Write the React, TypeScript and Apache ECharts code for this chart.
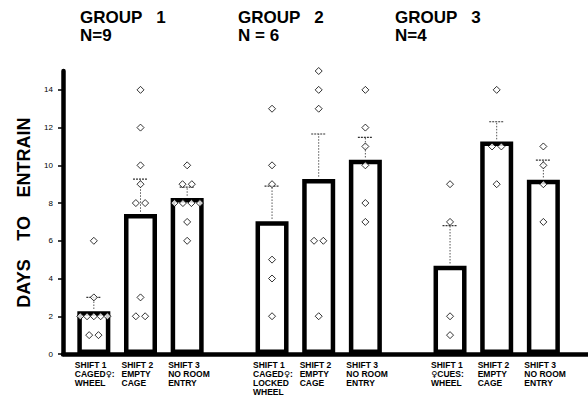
import React, { useEffect, useRef } from "react";
import * as echarts from "echarts";

const groupTitles = ["GROUP   1\nN=9", "GROUP   2\nN = 6", "GROUP   3\nN=4"];

const g1Categories = ["SHIFT 1\nCAGED♀:\nWHEEL", "SHIFT 2\nEMPTY\nCAGE", "SHIFT 3\nNO ROOM\nENTRY"];
const g2Categories = ["SHIFT 1\nCAGED♀:\nLOCKED\nWHEEL", "SHIFT 2\nEMPTY\nCAGE", "SHIFT 3\nNO ROOM\nENTRY"];
const g3Categories = ["SHIFT 1\n♀CUES:\nWHEEL", "SHIFT 2\nEMPTY\nCAGE", "SHIFT 3\nNO ROOM\nENTRY"];

const g1Means = [2.27, 7.42, 8.27];
const g2Means = [7.04, 9.28, 10.3];
const g3Means = [4.68, 11.26, 9.24];

const g1Upper = [3.0, 9.27, 8.85];
const g2Upper = [8.9, 11.66, 11.48];
const g3Upper = [6.8, 12.31, 10.28];

const g1Points = [
  [6, 3, 2, 2, 2, 2, 2, 1, 1],
  [14, 12, 10, 9, 8, 8, 3, 2, 2],
  [10, 9, 9, 8, 8, 8, 8, 7, 6],
];
const g2Points = [
  [13, 10, 9, 5, 4, 2],
  [15, 14, 13, 6, 6, 2],
  [14, 12, 11, 10, 8, 7],
];
const g3Points = [
  [9, 7, 2, 1],
  [14, 11, 11, 9],
  [11, 10, 9, 7],
];

const yTicks = [0, 2, 4, 6, 8, 10, 12, 14];
const yMax = 15;
const yName = "DAYS   \u2009TO   \u2009ENTRAIN";

const FONT = "'Liberation Sans', Arial, sans-serif";

export default function App() {
  const ref = useRef<HTMLDivElement>(null);

  useEffect(() => {
    if (!ref.current) return;
    const chart = echarts.init(ref.current, null, { renderer: "svg" });

    const groups = [
      { cats: g1Categories, means: g1Means, upper: g1Upper, points: g1Points },
      { cats: g2Categories, means: g2Means, upper: g2Upper, points: g2Points },
      { cats: g3Categories, means: g3Means, upper: g3Upper, points: g3Points },
    ];
    const gridLefts = [70.5, 248.7, 426.7];
    const gridTop = 71;
    const gridBottom = 43;

    const grids: any[] = [
      { left: 63, right: 0, top: gridTop, bottom: gridBottom },
    ];
    const xAxes: any[] = [
      {
        gridIndex: 0,
        type: "value",
        min: 0,
        max: 1,
        axisLine: { show: true, lineStyle: { color: "#000", width: 4.5 } },
        axisTick: { show: false },
        axisLabel: { show: false },
        splitLine: { show: false },
      },
    ];
    const yAxes: any[] = [
      {
        gridIndex: 0,
        type: "value",
        min: 0,
        max: yMax,
        axisLine: { show: true, lineStyle: { color: "#000", width: 4.5 } },
        axisTick: {
          show: true,
          length: 5,
          customValues: yTicks,
          lineStyle: { color: "#000", width: 1.5 },
        },
        axisLabel: {
          customValues: yTicks,
          margin: 10,
          fontSize: 8,
          color: "#000",
          fontFamily: FONT,
        },
        splitLine: { show: false },
        name: yName,
        nameLocation: "middle",
        nameRotate: 90,
        nameGap: 30,
        nameTextStyle: {
          fontSize: 18,
          fontWeight: "bold",
          color: "#000",
          fontFamily: FONT,
        },
      },
    ];
    const series: any[] = [];

    const labelText = (v: string) =>
      v
        .split("\n")
        .map((l) =>
          l
            .split("♀")
            .map((part) => (part ? `{a|${part}}` : ""))
            .join("{f|♀}")
        )
        .join("\n");

    groups.forEach((g, gi) => {
      const idx = gi + 1;
      grids.push({ left: gridLefts[gi], width: 140, top: gridTop, bottom: gridBottom });
      xAxes.push({
        gridIndex: idx,
        type: "category",
        data: g.cats,
        axisLine: { show: false },
        axisTick: { show: false },
        splitLine: { show: false },
        axisLabel: {
          interval: 0,
          margin: 6,
          width: 38,
          align: "center",
          formatter: labelText,
          rich: {
            a: {
              align: "left",
              fontSize: 8.5,
              fontWeight: "bold",
              lineHeight: 9.3,
              color: "#000",
              fontFamily: FONT,
            },
            f: {
              align: "left",
              fontSize: 8.5,
              fontWeight: "bold",
              lineHeight: 9.3,
              color: "#000",
              fontFamily: "'DejaVu Sans', sans-serif",
            },
          },
        },
      });
      yAxes.push({
        gridIndex: idx,
        type: "value",
        min: 0,
        max: yMax,
        show: false,
      });

      series.push({
        type: "bar",
        xAxisIndex: idx,
        yAxisIndex: idx,
        data: g.means,
        barWidth: 33,
        z: 2,
        itemStyle: { color: "#fff", borderColor: "#000", borderWidth: 4.5 },
      });

      series.push({
        type: "custom",
        xAxisIndex: idx,
        yAxisIndex: idx,
        z: 3,
        data: g.means.map((m, i) => [i, m, g.upper[i]]),
        renderItem: (params: any, api: any) => {
          const base = api.coord([api.value(0), api.value(1)]);
          const top = api.coord([api.value(0), api.value(2)]);
          return {
            type: "group",
            children: [
              {
                type: "line",
                shape: { x1: base[0], y1: base[1] - 2.2, x2: top[0], y2: top[1] },
                style: { stroke: "#555", lineWidth: 1, lineDash: [1.5, 1.5] },
              },
              {
                type: "line",
                shape: { x1: top[0] - 7.5, y1: top[1], x2: top[0] + 7.5, y2: top[1] },
                style: { stroke: "#333", lineWidth: 1.2, lineDash: [2, 1] },
              },
            ],
          };
        },
      });

      const pts: any[] = [];
      g.points.forEach((vals, ci) => {
        const counts: Record<number, number> = {};
        vals.forEach((v) => (counts[v] = (counts[v] || 0) + 1));
        const seen: Record<number, number> = {};
        vals.forEach((v) => {
          const n = counts[v];
          const k = seen[v] || 0;
          seen[v] = k + 1;
          const step = Math.min(9.3, 34 / n);
          pts.push({ value: [ci, v], symbolOffset: [(k - (n - 1) / 2) * step, 0] });
        });
      });
      series.push({
        type: "scatter",
        xAxisIndex: idx,
        yAxisIndex: idx,
        z: 4,
        symbol: "diamond",
        symbolSize: 7,
        itemStyle: { color: "#fff", borderColor: "#000", borderWidth: 1 },
        data: pts,
      });
    });

    const titleLefts = [80, 238, 395];
    const option: any = {
      animation: false,
      backgroundColor: "#fff",
      title: groupTitles.map((t, i) => ({
        text: t,
        left: titleLefts[i],
        top: 8,
        padding: 0,
        textStyle: {
          fontSize: 17,
          fontWeight: "bold",
          lineHeight: 18,
          color: "#000",
          fontFamily: FONT,
        },
      })),
      grid: grids,
      xAxis: xAxes,
      yAxis: yAxes,
      series,
    };
    chart.setOption(option);
    return () => chart.dispose();
  }, []);

  return (
    <div
      ref={ref}
      style={{ position: "fixed", left: 0, top: 0, width: 588, height: 397, background: "#fff" }}
    />
  );
}
